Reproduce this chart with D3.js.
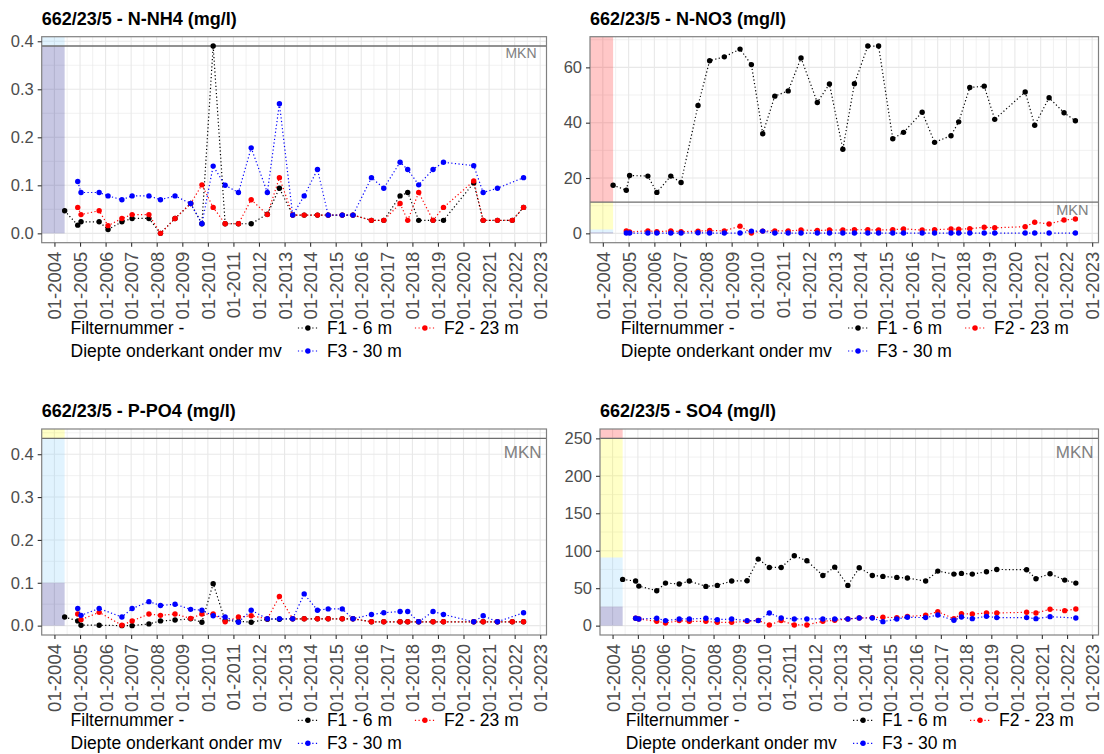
<!DOCTYPE html>
<html>
<head>
<meta charset="utf-8">
<script src="https://cdn.jsdelivr.net/npm/d3@7/dist/d3.min.js"></script>
<style>
  body { margin: 0; background: #ffffff; }
  svg { display: block; }
  text { font-family: "Liberation Sans", Arial, Helvetica, sans-serif; }
</style>
</head>
<body>
<svg id="chart" width="1104" height="754"></svg>
<script>
// Sampling dates of well 662/23/5 (shared by all parameters)
const sampleDates = [
  "2004-05-26", "2004-11-29", "2005-01-15", "2005-10-01", "2006-02-05", "2006-08-22",
  "2007-01-15", "2007-09-12", "2008-02-24", "2008-09-19", "2009-04-30", "2009-10-08",
  "2010-03-18", "2010-09-05", "2011-03-14", "2011-09-12", "2012-04-30", "2012-10-19",
  "2013-04-27", "2013-10-08", "2014-04-16", "2014-09-16", "2015-04-05", "2015-09-05",
  "2016-05-26", "2016-11-18", "2017-07-09", "2017-10-26", "2018-04-01", "2018-10-23",
  "2019-03-21", "2020-05-26", "2020-10-08", "2021-04-30", "2021-11-28", "2022-05-08"
];

// Filter names (legend)
const filterNames = ["F1 - 6 m", "F2 - 23 m", "F3 - 30 m"];

// N-NH4 (mg/l), one value per sampling date, null = not sampled
const nh4F1 = [0.047, 0.017, 0.024, 0.024, 0.008, 0.024, 0.031, 0.031, 0.0, 0.031, 0.062, 0.02,
  0.39, 0.02, 0.02, 0.02, 0.04, 0.094, 0.038, 0.038, 0.038, 0.038, 0.038, 0.038,
  0.027, 0.027, 0.078, 0.085, 0.027, 0.027, 0.027, 0.105, 0.027, 0.027, 0.027, 0.054];
const nh4F2 = [null, 0.054, 0.039, 0.047, 0.016, 0.031, 0.039, 0.039, 0.0, 0.031, 0.062, 0.101,
  0.054, 0.02, 0.02, 0.07, 0.039, 0.116, 0.038, 0.038, 0.038, 0.038, 0.038, 0.038,
  0.027, 0.027, 0.062, 0.027, 0.085, 0.027, 0.054, 0.109, 0.027, 0.027, 0.027, 0.054];
const nh4F3 = [null, 0.108, 0.085, 0.085, 0.078, 0.07, 0.078, 0.078, 0.07, 0.078, 0.062, 0.02,
  0.14, 0.1, 0.085, 0.178, 0.085, 0.27, 0.038, 0.078, 0.133, 0.038, 0.038, 0.038,
  0.116, 0.094, 0.148, 0.133, 0.101, 0.133, 0.148, 0.141, 0.085, 0.094, null, 0.116];

// N-NO3 (mg/l)
const no3F1 = [17.4, 15.6, 20.9, 20.7, 14.8, 20.7, 18.4, 46.2, 62.4, 63.8, 66.6, 61.0,
  36.0, 49.6, 51.5, 63.4, 47.3, 54.0, 30.4, 54.1, 67.7, 67.7, 34.2, 36.5,
  43.8, 32.9, 35.3, 40.3, 52.7, 53.2, 41.2, 51.1, 39.1, 49.0, 43.6, 40.7];
const no3F2 = [null, 0.9, 0.5, 0.9, 0.6, 0.9, 0.6, 0.8, 1.0, 0.9, 2.6, 0.1,
  0.8, 0.9, 0.9, 1.2, 1.0, 1.2, 1.2, 1.3, 1.3, 1.2, 1.3, 1.6,
  1.2, 1.3, 1.6, 1.5, 1.7, 2.2, 2.0, 2.4, 4.0, 3.4, 4.8, 5.2];
const no3F3 = [null, 0.1, 0.1, 0.1, 0.1, 0.1, 0.1, 0.2, 0.1, 0.1, 0.1, 0.8,
  0.8, 0.1, 0.1, 0.1, 0.1, 0.1, 0.1, 0.1, 0.1, 0.1, 0.1, 0.1,
  0.1, 0.1, 0.1, 0.1, 0.1, 0.1, 0.1, 0.1, 0.1, 0.1, null, 0.1];

// P-PO4 (mg/l)
const po4F1 = [0.020, 0.011, 0.001, 0.001, null, 0.0, 0.0, 0.004, 0.011, 0.013, 0.016, 0.008,
  0.098, 0.012, 0.01, 0.008, 0.015, 0.015, 0.016, 0.016, 0.016, 0.016, 0.016, 0.016,
  0.009, 0.009, 0.009, 0.009, 0.009, 0.009, 0.009, 0.009, 0.009, 0.009, 0.009, 0.009];
const po4F2 = [null, 0.027, 0.014, 0.031, null, 0.001, 0.011, 0.027, 0.024, 0.027, 0.017, 0.027,
  0.027, 0.009, 0.02, 0.023, 0.016, 0.068, 0.016, 0.016, 0.016, 0.016, 0.016, 0.016,
  0.009, 0.009, 0.009, 0.009, 0.009, 0.009, 0.009, 0.009, 0.009, 0.009, 0.009, 0.009];
const po4F3 = [null, 0.04, 0.024, 0.04, null, 0.02, 0.04, 0.056, 0.047, 0.05, 0.038, 0.036,
  0.023, 0.02, 0.008, 0.036, 0.016, 0.016, 0.016, 0.074, 0.036, 0.039, 0.039, 0.016,
  0.026, 0.03, 0.033, 0.033, 0.009, 0.033, 0.026, 0.009, 0.023, 0.009, null, 0.03];

// SO4 (mg/l)
const so4F1 = [61.7, 59.5, 52.8, 46.6, 56.8, 55.5, 59.5, 52.4, 53.7, 59.5, 59.9, 88.8,
  77.7, 77.7, 93.2, 86.6, 67.0, 78.1, 53.7, 77.3, 67.0, 65.7, 64.4, 63.5,
  59.5, 72.8, 68.8, 69.7, 68.8, 71.9, 75.0, 74.6, 62.6, 69.3, 60.8, 56.8];
const so4F2 = [null, 9.8, 8.9, 5.8, 3.6, 6.7, 5.8, 5.8, 4.4, 4.4, 5.8, 7.0,
  0.9, 6.7, 0.9, 0.9, 5.8, 7.1, 8.9, 10.2, 10.7, 11.1, 10.7, 12.4,
  13.8, 18.6, 9.3, 16.0, 15.5, 16.9, 16.9, 17.8, 16.9, 21.8, 20.0, 22.2];
const so4F3 = [null, 9.8, 8.9, 9.8, 6.7, 8.9, 8.9, 9.8, 8.0, 8.9, 6.7, 6.7,
  16.9, 10.2, 8.9, 8.9, 8.9, 8.9, 8.9, 10.2, 10.2, 5.3, 8.9, 11.1,
  10.7, 14.2, 7.1, 11.5, 9.3, 12.4, 10.7, 10.7, 9.3, 12.0, null, 10.2];

// Quality standard (MKN) per parameter
const mknNH4 = 0.39, mknNO3 = 11.3, mknPO4 = 0.437, mknSO4 = 250;

// Classification bands: [lower, upper, class]
const bandsNH4 = [[0, 0.39, "c1"], [0.39, Infinity, "c2"]];
const bandsNO3 = [[0, 0.4, "c1"], [0.4, 1.4, "c2"], [1.4, 11.3, "c3"], [11.3, Infinity, "c4"]];
const bandsPO4 = [[0, 0.1, "c1"], [0.1, 0.437, "c2"], [0.437, Infinity, "c3"]];
const bandsSO4 = [[0, 25.5, "c1"], [25.5, 91, "c2"], [91, 250, "c3"], [250, Infinity, "c4"]];

// Axis tick values
const yTicksNH4 = [0, 0.1, 0.2, 0.3, 0.4];
const yTicksNO3 = [0, 20, 40, 60];
const yTicksPO4 = [0, 0.1, 0.2, 0.3, 0.4];
const yTicksSO4 = [0, 50, 100, 150, 200, 250];
const tickYears = d3.range(2004, 2024);

const panels = [
  { title: "662/23/5 - N-NH4 (mg/l)", series: [nh4F1, nh4F2, nh4F3], mkn: mknNH4, bands: bandsNH4, ticks: yTicksNH4, fmt: d3.format(".1f") },
  { title: "662/23/5 - N-NO3 (mg/l)", series: [no3F1, no3F2, no3F3], mkn: mknNO3, bands: bandsNO3, ticks: yTicksNO3, fmt: d3.format("d") },
  { title: "662/23/5 - P-PO4 (mg/l)", series: [po4F1, po4F2, po4F3], mkn: mknPO4, bands: bandsPO4, ticks: yTicksPO4, fmt: d3.format(".1f") },
  { title: "662/23/5 - SO4 (mg/l)",   series: [so4F1, so4F2, so4F3], mkn: mknSO4, bands: bandsSO4, ticks: yTicksSO4, fmt: d3.format("d") }
];

// ---- styling / layout ----
const seriesColors = ["#000000", "#ff0000", "#0000ff"];
const bandStyle = {
  c1: { fill: "#000080", opacity: 0.22 },
  c2: { fill: "#87cefa", opacity: 0.25 },
  c3: { fill: "#ffff00", opacity: 0.22 },
  c4: { fill: "#ff0000", opacity: 0.22 }
};
const layout = [
  { ox: 0,   oy: 0,     left: 41.7, mknSize: 14,   mknDx: 10, mknDy: 2 },
  { ox: 552, oy: 0,     left: 38,   mknSize: 14.5, mknDx: 10, mknDy: 2 },
  { ox: 0,   oy: 392.3, left: 41.7, mknSize: 17,   mknDx: 5,  mknDy: 7 },
  { ox: 552, oy: 392.3, left: 48,   mknSize: 17,   mknDx: 5,  mknDy: 7 }
];
const gridColor = "#e8e8e8";
const axisTextColor = "#4d4d4d";

const parse = d3.timeParse("%Y-%m-%d");
const dates = sampleDates.map(parse);
const svg = d3.select("#chart");

panels.forEach((p, i) => {
  const L = layout[i];
  const px0 = L.ox + L.left, px1 = L.ox + 546.5;
  const py0 = L.oy + 36.7, py1 = L.oy + 242.7;

  // x scale: data range expanded by 5% on both sides
  const first = dates[0], last = dates[dates.length - 1];
  const span = last - first;
  const x = d3.scaleTime()
    .domain([new Date(+first - 0.05 * span), new Date(+last + 0.05 * span)])
    .range([px0, px1]);

  const allVals = p.series.flat().filter(v => v != null);
  const top = Math.max(d3.max(allVals), p.mkn);
  const y = d3.scaleLinear().domain([-0.05 * top, 1.05 * top]).range([py1, py0]);

  const g = svg.append("g");
  const clipId = "clip" + i;
  g.append("clipPath").attr("id", clipId)
    .append("rect").attr("x", px0).attr("y", py0).attr("width", px1 - px0).attr("height", py1 - py0);

  // title
  g.append("text").attr("x", px0).attr("y", L.oy + 25)
    .attr("font-size", 18).attr("font-weight", "bold").attr("fill", "#000")
    .text(p.title);

  const plot = g.append("g").attr("clip-path", `url(#${clipId})`);
  plot.append("rect").attr("x", px0).attr("y", py0).attr("width", px1 - px0).attr("height", py1 - py0).attr("fill", "#fff");

  // grid: minor then major
  const step = p.ticks[1] - p.ticks[0];
  const yMinor = d3.range(p.ticks[0] - step / 2, y.domain()[1], step).filter(v => v > y.domain()[0]);
  const xMajor = tickYears.map(yr => new Date(yr, 0, 1));
  const xMinor = d3.range(2003, 2024).map(yr => new Date(yr, 6, 1)).filter(d => d > x.domain()[0] && d < x.domain()[1]);

  plot.selectAll(null).data(yMinor).join("line")
    .attr("x1", px0).attr("x2", px1).attr("y1", d => y(d)).attr("y2", d => y(d))
    .attr("stroke", gridColor).attr("stroke-width", 0.6);
  plot.selectAll(null).data(xMinor).join("line")
    .attr("y1", py0).attr("y2", py1).attr("x1", d => x(d)).attr("x2", d => x(d))
    .attr("stroke", gridColor).attr("stroke-width", 0.6);
  plot.selectAll(null).data(p.ticks).join("line")
    .attr("x1", px0).attr("x2", px1).attr("y1", d => y(d)).attr("y2", d => y(d))
    .attr("stroke", gridColor).attr("stroke-width", 1.1);
  plot.selectAll(null).data(xMajor).join("line")
    .attr("y1", py0).attr("y2", py1).attr("x1", d => x(d)).attr("x2", d => x(d))
    .attr("stroke", gridColor).attr("stroke-width", 1.1);

  // classification bands before the first sample
  plot.selectAll(null).data(p.bands).join("rect")
    .attr("x", px0)
    .attr("width", x(first) - px0)
    .attr("y", d => isFinite(d[1]) ? y(d[1]) : py0)
    .attr("height", d => y(d[0]) - (isFinite(d[1]) ? y(d[1]) : py0))
    .attr("fill", d => bandStyle[d[2]].fill)
    .attr("fill-opacity", d => bandStyle[d[2]].opacity);

  // MKN line and label
  plot.append("line").attr("x1", px0).attr("x2", px1).attr("y1", y(p.mkn)).attr("y2", y(p.mkn))
    .attr("stroke", "#6e6e6e").attr("stroke-width", 1.4);
  g.append("text").attr("x", px1 - L.mknDx).attr("y", y(p.mkn) + L.mknDy + 0.72 * L.mknSize)
    .attr("text-anchor", "end").attr("font-size", L.mknSize).attr("fill", "#808080")
    .text("MKN");

  // series: dotted lines + points
  p.series.forEach((vals, s) => {
    const pts = vals.map((v, k) => ({ date: dates[k], value: v })).filter(d => d.value != null);
    const line = d3.line().x(d => x(d.date)).y(d => y(d.value));
    plot.append("path").datum(pts).attr("d", line)
      .attr("fill", "none").attr("stroke", seriesColors[s])
      .attr("stroke-width", 1.2).attr("stroke-dasharray", "1.2,2.4");
    plot.selectAll(null).data(pts).join("circle")
      .attr("cx", d => x(d.date)).attr("cy", d => y(d.value)).attr("r", 2.7)
      .attr("fill", seriesColors[s]);
  });

  // panel border
  g.append("rect").attr("x", px0).attr("y", py0).attr("width", px1 - px0).attr("height", py1 - py0)
    .attr("fill", "none").attr("stroke", "#808080").attr("stroke-width", 1.2);

  // y axis
  const yAxis = d3.axisLeft(y).tickValues(p.ticks).tickFormat(p.fmt).tickSize(4).tickPadding(4);
  const ya = g.append("g").attr("transform", `translate(${px0},0)`).call(yAxis);
  ya.select(".domain").remove();
  ya.selectAll(".tick line").attr("stroke", "#333").attr("stroke-width", 1.1);
  ya.selectAll(".tick text").attr("fill", axisTextColor).attr("font-size", 16.5)
    .attr("font-family", "'Liberation Sans', Arial, sans-serif");

  // x axis
  const xAxis = d3.axisBottom(x).tickValues(xMajor).tickFormat(d3.timeFormat("%m-%Y")).tickSize(4).tickPadding(5);
  const xa = g.append("g").attr("transform", `translate(0,${py1})`).call(xAxis);
  xa.select(".domain").remove();
  xa.selectAll(".tick line").attr("stroke", "#333").attr("stroke-width", 1.1);
  xa.selectAll(".tick text")
    .attr("fill", axisTextColor).attr("font-size", 18.5)
    .attr("font-family", "'Liberation Sans', Arial, sans-serif")
    .attr("text-anchor", "end")
    .attr("transform", "translate(0,9) rotate(-90)")
    .attr("x", 0).attr("y", 0).attr("dy", "0.35em");

  // legend
  const lx = (px0 + px1) / 2 - 223.5;
  const lg = g.append("g");
  lg.append("text").attr("x", lx).attr("y", L.oy + 334).attr("font-size", 17.5).attr("fill", "#000").text("Filternummer -");
  lg.append("text").attr("x", lx).attr("y", L.oy + 357).attr("font-size", 17.5).attr("fill", "#000").text("Diepte onderkant onder mv");
  const keyPos = [
    { dx: 237.3, cy: L.oy + 328, ty: L.oy + 334 },
    { dx: 354.3, cy: L.oy + 328, ty: L.oy + 334 },
    { dx: 237.3, cy: L.oy + 351, ty: L.oy + 357 }
  ];
  filterNames.forEach((name, s) => {
    const k = keyPos[s];
    lg.append("line").attr("x1", lx + k.dx - 10).attr("x2", lx + k.dx + 10)
      .attr("y1", k.cy).attr("y2", k.cy).attr("stroke", seriesColors[s])
      .attr("stroke-width", 1.2).attr("stroke-dasharray", "1.2,2.4");
    lg.append("circle").attr("cx", lx + k.dx).attr("cy", k.cy).attr("r", 2.7).attr("fill", seriesColors[s]);
    lg.append("text").attr("x", lx + k.dx + 19).attr("y", k.ty).attr("font-size", 17.5).attr("fill", "#000").text(name);
  });
});
</script>
</body>
</html>
